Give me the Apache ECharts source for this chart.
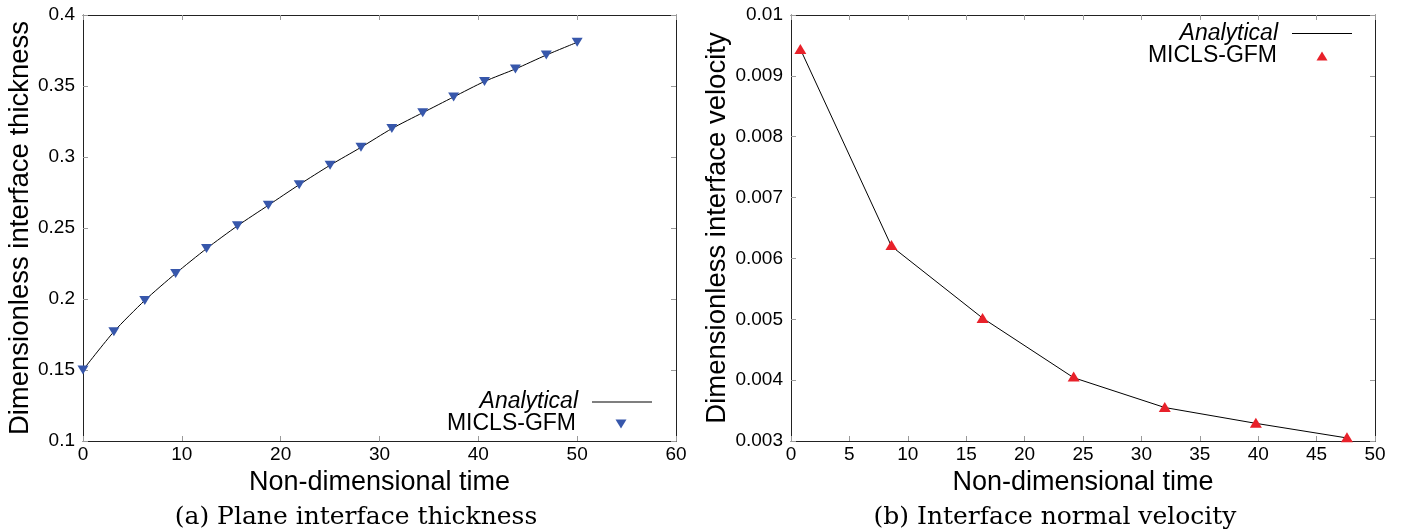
<!DOCTYPE html>
<html>
<head>
<meta charset="utf-8">
<script src="https://cdn.jsdelivr.net/npm/echarts@6/dist/echarts.min.js"></script>
<style>
html, body { margin: 0; padding: 0; background: #ffffff; }
#chart { width: 1403px; height: 532px; }
</style>
</head>
<body>
<div id="chart"></div>
<script>
// ---------- Data: (a) plane interface thickness ----------
const thicknessTime = [0, 3.125, 6.25, 9.375, 12.5, 15.625, 18.75, 21.875, 25, 28.125, 31.25, 34.375, 37.5, 40.625, 43.75, 46.875, 50];
const thicknessAnalytical = [0.150, 0.177, 0.199, 0.218, 0.2355, 0.2515, 0.266, 0.2805, 0.2942, 0.3068, 0.3200, 0.3312, 0.3423, 0.3532, 0.3620, 0.3718, 0.3808];
const thicknessMICLS = [0.150, 0.177, 0.199, 0.218, 0.2355, 0.2515, 0.266, 0.2805, 0.2942, 0.3068, 0.3200, 0.3312, 0.3423, 0.3532, 0.3620, 0.3718, 0.3808];

// ---------- Data: (b) interface normal velocity ----------
const velocityTime = [0.8, 8.6, 16.4, 24.2, 32.0, 39.8, 47.6];
const velocityAnalytical = [0.00944, 0.00620, 0.00502, 0.00404, 0.00355, 0.00329, 0.00305];
const velocityMICLS = [0.00944, 0.00622, 0.00502, 0.00406, 0.00356, 0.00330, 0.00306];

// ---------- Axis ticks ----------
const thicknessXTicks = { min: 0, max: 60, interval: 10 };
const thicknessYTicks = { min: 0.1, max: 0.4, interval: 0.05 };
const velocityXTicks = { min: 0, max: 50, interval: 5 };
const velocityYTicks = { min: 0.003, max: 0.01, interval: 0.001 };

// ---------- Text ----------
const xTitle = 'Non-dimensional time';
const yTitleA = 'Dimensionless interface thickness';
const yTitleB = 'Dimensionless interface velocity';
const captionA = '(a) Plane interface thickness';
const captionB = '(b) Interface normal velocity';
const nameAnalytical = 'Analytical';
const nameMICLS = 'MICLS-GFM';

const BLUE = '#3757ab';
const RED = '#e8212a';
const FONT = 'Liberation Sans, Arial, sans-serif';

function zip(xs, ys) { return xs.map((x, i) => [x, ys[i]]); }

const frameColor = '#222222';
const tickColor = '#9a9a9a';

function mainX(gridIndex, t) {
  return {
    type: 'value', gridIndex: gridIndex, position: 'bottom',
    min: t.min, max: t.max, interval: t.interval,
    axisLine: { show: true, onZero: false, lineStyle: { color: frameColor, width: 1 } },
    axisTick: { show: true, inside: true, length: 5, lineStyle: { color: tickColor } },
    axisLabel: { show: true, margin: 4, color: '#000', fontFamily: FONT, fontSize: 19 },
    splitLine: { show: false },
    name: xTitle, nameLocation: 'middle', nameGap: 14,
    nameTextStyle: { color: '#000', fontFamily: FONT, fontSize: 27 }
  };
}
function mirrorX(gridIndex, t) {
  return {
    type: 'value', gridIndex: gridIndex, position: 'top',
    min: t.min, max: t.max, interval: t.interval,
    axisLine: { show: true, onZero: false, lineStyle: { color: frameColor, width: 1 } },
    axisTick: { show: true, inside: true, length: 5, lineStyle: { color: tickColor } },
    axisLabel: { show: false }, splitLine: { show: false }
  };
}
function mainY(gridIndex, t, title, gap) {
  return {
    type: 'value', gridIndex: gridIndex, position: 'left',
    min: t.min, max: t.max, interval: t.interval,
    axisLine: { show: true, onZero: false, lineStyle: { color: frameColor, width: 1 } },
    axisTick: { show: true, inside: true, length: 5, lineStyle: { color: tickColor } },
    axisLabel: { show: true, margin: 8, color: '#000', fontFamily: FONT, fontSize: 19 },
    splitLine: { show: false },
    name: title, nameLocation: 'middle', nameGap: gap,
    nameTextStyle: { color: '#000', fontFamily: FONT, fontSize: 27.5 }
  };
}
function mirrorY(gridIndex, t) {
  return {
    type: 'value', gridIndex: gridIndex, position: 'right',
    min: t.min, max: t.max, interval: t.interval,
    axisLine: { show: true, onZero: false, lineStyle: { color: frameColor, width: 1 } },
    axisTick: { show: true, inside: true, length: 5, lineStyle: { color: tickColor } },
    axisLabel: { show: false }, splitLine: { show: false }
  };
}

function legendItem(seriesName, icon, itemWidth, itemHeight, right, top, italic, gapPad) {
  return {
    show: true, orient: 'vertical', align: 'right',
    right: right, top: top, padding: 0,
    itemWidth: itemWidth, itemHeight: itemHeight,
    symbolKeepAspect: false,
    selectedMode: false,
    formatter: function (n) { return n.trim(); },
    textStyle: {
      color: '#000', fontFamily: FONT, fontSize: 23,
      fontStyle: italic ? 'italic' : 'normal',
      padding: [0, gapPad, 0, 0]
    },
    data: [{ name: seriesName, icon: icon }]
  };
}

const DOWN_TRI = 'path://M0,0L11,0L5.5,9Z';
const UP_TRI = 'path://M5.5,0L11,9L0,9Z';

const option = {
  backgroundColor: '#ffffff',
  animation: false,
  grid: [
    { left: 83, top: 15, width: 593, height: 426, containLabel: false },
    { left: 791, top: 15, width: 584, height: 426, containLabel: false }
  ],
  xAxis: [
    mainX(0, thicknessXTicks), mirrorX(0, thicknessXTicks),
    mainX(1, velocityXTicks), mirrorX(1, velocityXTicks)
  ],
  yAxis: [
    mainY(0, thicknessYTicks, yTitleA, 44), mirrorY(0, thicknessYTicks),
    mainY(1, velocityYTicks, yTitleB, 51.5), mirrorY(1, velocityYTicks)
  ],
  title: [
    { text: captionA, left: 356, top: 505, textAlign: 'center', padding: 0,
      textStyle: { fontFamily: 'DejaVu Serif, serif', fontSize: 25, fontWeight: 'normal', color: '#000' } },
    { text: captionB, left: 1055, top: 505, textAlign: 'center', padding: 0,
      textStyle: { fontFamily: 'DejaVu Serif, serif', fontSize: 25, fontWeight: 'normal', color: '#000' } }
  ],
  legend: [
    legendItem(nameAnalytical, 'rect', 60, 1, 751, 390.5, true, 9),
    legendItem(nameMICLS, DOWN_TRI, 11, 9, 776.5, 412.5, false, 34.5),
    legendItem(nameAnalytical + ' ', 'rect', 60, 1, 51, 22, true, 9),
    legendItem(nameMICLS + ' ', UP_TRI, 11, 9, 75.5, 44.5, false, 34.5)
  ],
  series: [
    {
      name: nameAnalytical, type: 'line', xAxisIndex: 0, yAxisIndex: 0,
      data: zip(thicknessTime, thicknessAnalytical),
      smooth: 0.25, showSymbol: false, symbol: 'none',
      lineStyle: { color: '#000', width: 1 }, itemStyle: { color: '#000' }, z: 2
    },
    {
      name: nameMICLS, type: 'scatter', xAxisIndex: 0, yAxisIndex: 0,
      data: zip(thicknessTime, thicknessMICLS),
      symbol: 'triangle', symbolRotate: 180, symbolSize: [11, 9],
      itemStyle: { color: BLUE, opacity: 1 }, z: 3
    },
    {
      name: nameAnalytical + ' ', type: 'line', xAxisIndex: 2, yAxisIndex: 2,
      data: zip(velocityTime, velocityAnalytical),
      showSymbol: false, symbol: 'none',
      lineStyle: { color: '#000', width: 1 }, itemStyle: { color: '#000' }, z: 2
    },
    {
      name: nameMICLS + ' ', type: 'scatter', xAxisIndex: 2, yAxisIndex: 2,
      data: zip(velocityTime, velocityMICLS),
      symbol: 'triangle', symbolSize: [12, 10],
      itemStyle: { color: RED, opacity: 1 }, z: 3
    }
  ]
};

const chart = echarts.init(document.getElementById('chart'), null, { renderer: 'canvas' });
chart.setOption(option);
</script>
</body>
</html>
